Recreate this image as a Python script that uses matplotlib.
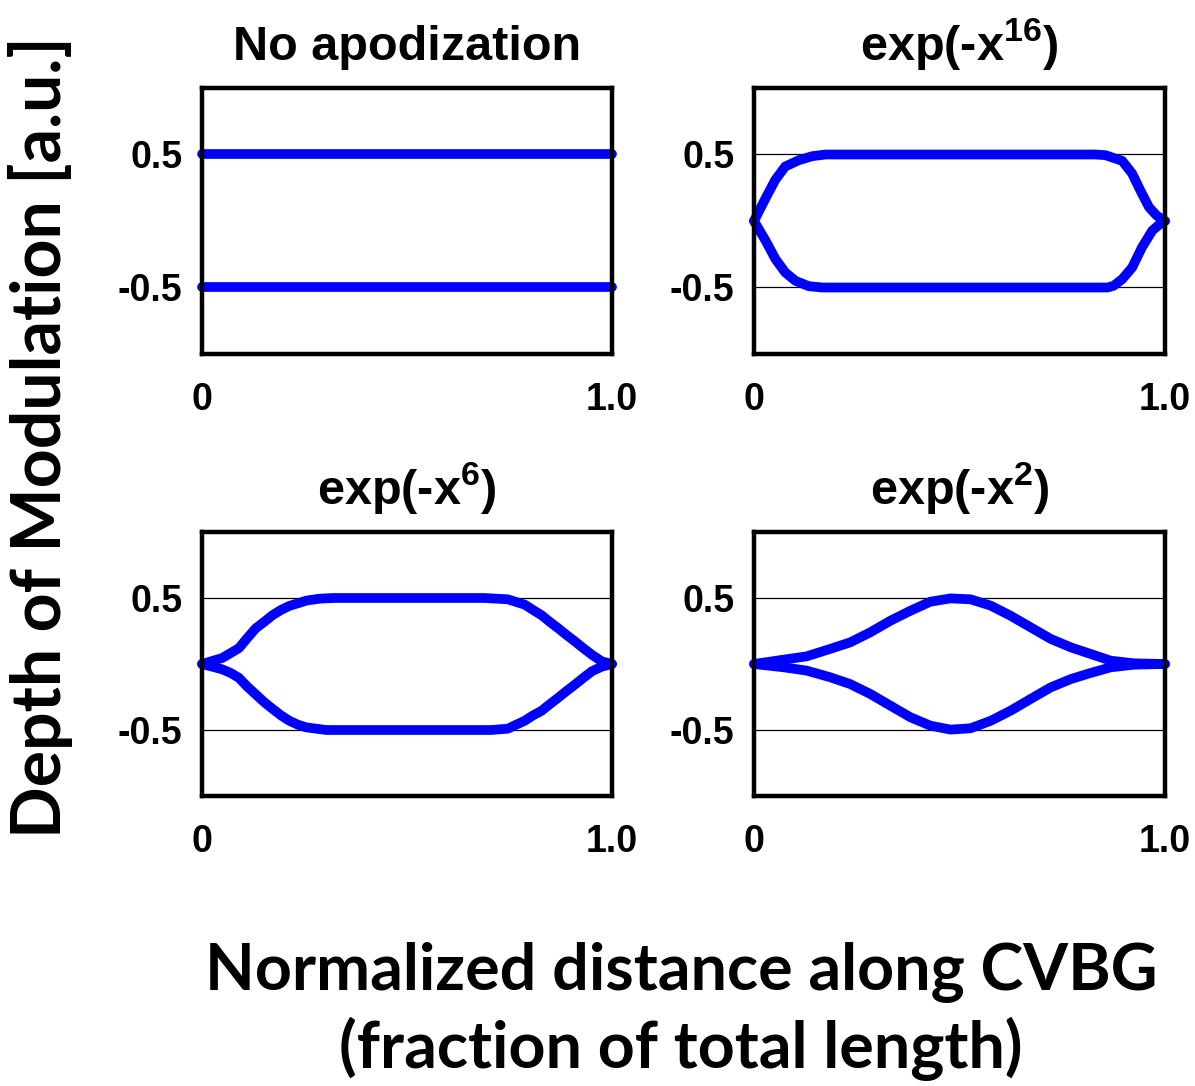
import matplotlib
matplotlib.use("Agg")
import matplotlib.pyplot as plt

plt.rcParams["font.family"] = ["Liberation Sans", "DejaVu Sans"]
plt.rcParams["mathtext.default"] = "regular"

# apodization envelopes (upper / lower), x = fraction of grating length
flat_x = [0.0, 1.0]
flat_up = [0.5, 0.5]
flat_lo = [-0.5, -0.5]

sg16_up_x = [0.0, 0.028, 0.052, 0.076, 0.109, 0.141, 0.174, 0.5, 0.83, 0.855, 0.896, 0.920, 0.940, 0.961, 0.980, 1.0]
sg16_up = [0.0, 0.17, 0.31, 0.41, 0.457, 0.487, 0.5, 0.5, 0.5, 0.495, 0.452, 0.357, 0.23, 0.104, 0.04, 0.0]
sg16_lo_x = [0.0, 0.028, 0.052, 0.076, 0.101, 0.133, 0.166, 0.5, 0.86, 0.875, 0.896, 0.920, 0.944, 0.969, 0.985, 1.0]
sg16_lo = [0.0, -0.147, -0.285, -0.387, -0.45, -0.49, -0.5, -0.5, -0.5, -0.487, -0.437, -0.35, -0.198, -0.072, -0.03, 0.0]

sg6_up_x = [0.0, 0.049, 0.09, 0.11, 0.131, 0.152, 0.172, 0.193, 0.213, 0.234, 0.254, 0.287, 0.32, 0.5,
            0.689, 0.746, 0.766, 0.787, 0.807, 0.828, 0.848, 0.869, 0.889, 0.91, 0.93, 0.951, 0.975, 1.0]
sg6_up = [0.0, 0.045, 0.12, 0.195, 0.27, 0.32, 0.37, 0.41, 0.44, 0.46, 0.48, 0.495, 0.5, 0.5,
          0.5, 0.49, 0.47, 0.45, 0.41, 0.37, 0.32, 0.27, 0.22, 0.17, 0.12, 0.07, 0.02, 0.0]
sg6_lo_x = [0.0, 0.049, 0.07, 0.09, 0.11, 0.131, 0.152, 0.172, 0.193, 0.213, 0.234, 0.254, 0.303, 0.5,
            0.705, 0.746, 0.766, 0.787, 0.807, 0.828, 0.848, 0.869, 0.889, 0.91, 0.93, 0.951, 0.975, 1.0]
sg6_lo = [0.0, -0.04, -0.068, -0.105, -0.17, -0.23, -0.29, -0.34, -0.39, -0.43, -0.46, -0.48, -0.5, -0.5,
          -0.5, -0.49, -0.46, -0.43, -0.39, -0.355, -0.305, -0.255, -0.205, -0.155, -0.105, -0.055, -0.02, 0.0]

gauss_x = [0.0, 0.072, 0.128, 0.185, 0.234, 0.283, 0.332, 0.381, 0.429, 0.478, 0.527,
           0.576, 0.624, 0.673, 0.722, 0.771, 0.819, 0.868, 0.925, 1.0]
gauss_up = [0.0, 0.033, 0.058, 0.114, 0.164, 0.24, 0.328, 0.404, 0.472, 0.497, 0.49,
            0.442, 0.366, 0.278, 0.19, 0.126, 0.076, 0.025, 0.005, 0.0]
gauss_lo = [0.0, -0.025, -0.05, -0.10, -0.152, -0.227, -0.316, -0.404, -0.467, -0.497, -0.487,
            -0.43, -0.354, -0.265, -0.177, -0.114, -0.068, -0.025, -0.005, 0.0]

titles = ["No apodization", "exp(-x$^{16}$)", "exp(-x$^{6}$)", "exp(-x$^{2}$)"]
curves = [
    (flat_x, flat_up, flat_x, flat_lo),
    (sg16_up_x, sg16_up, sg16_lo_x, sg16_lo),
    (sg6_up_x, sg6_up, sg6_lo_x, sg6_lo),
    (gauss_x, gauss_up, gauss_x, gauss_lo),
]
y_ticks = [0.5, -0.5]
y_ticklabels = ["0.5", "-0.5"]
x_ticks = [0.0, 1.0]
x_ticklabels = ["0", "1.0"]

W, H = 1195, 1086
fig = plt.figure(figsize=(W / 100, H / 100), dpi=100)

# axes boxes in pixels: left, top, right, bottom
boxes = [(202, 88, 612, 354), (754, 88, 1165, 354),
         (202, 532, 612, 796), (754, 532, 1165, 796)]

for box, title, (xu, yu, xl, yl) in zip(boxes, titles, curves):
    l, t, r, b = box
    ax = fig.add_axes([l / W, 1 - b / H, (r - l) / W, (b - t) / H])
    ax.set_xlim(0, 1)
    ax.set_ylim(-1, 1)
    for yv in y_ticks:
        ax.axhline(yv, color="black", lw=0.9, zorder=1)
    for xs, ys in ((xu, yu), (xl, yl)):
        ax.plot(xs, ys, color="#0000ff", lw=7, solid_capstyle="round",
                solid_joinstyle="round", clip_on=False, zorder=2)
    for sp in ax.spines.values():
        sp.set_linewidth(3.2)
        sp.set_zorder(3)
    ax.set_yticks(y_ticks)
    ax.set_yticklabels(y_ticklabels)
    ax.set_xticks(x_ticks)
    ax.set_xticklabels(x_ticklabels)
    ax.tick_params(length=0, labelsize=27)
    ax.tick_params(axis="x", pad=20)
    ax.tick_params(axis="y", pad=14)
    for lab in ax.get_xticklabels() + ax.get_yticklabels():
        lab.set_fontweight("bold")
    ax.set_title(title, fontsize=35, fontweight="bold", pad=20)

lab_font = ["Lato", "DejaVu Sans"]
fig.text(681 / W, 1 - 990 / H, "Normalized distance along CVBG", ha="center", va="baseline",
         fontsize=46.5, fontweight="bold", family=lab_font)
fig.text(681 / W, 1 - 1068 / H, "(fraction of total length)", ha="center", va="baseline",
         fontsize=46.5, fontweight="bold", family=lab_font)
fig.text(41 / W, 1 - 437 / H, "Depth of Modulation [a.u.]", ha="center", va="center",
         rotation=90, fontsize=49, fontweight="bold", family=lab_font)

fig.savefig("out.png", dpi=100)
